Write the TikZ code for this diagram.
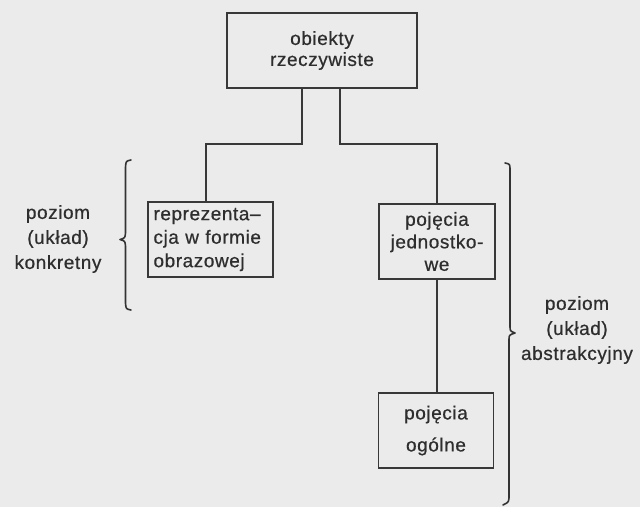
\documentclass[tikz,border=0pt]{standalone}
\usepackage{fontspec}
\setmainfont{Liberation Sans}[LetterSpace=3, FakeBold=0.6]
\begin{document}
\begin{tikzpicture}[x=1pt,y=-1pt,
  ink/.style={draw=black!78, line width=1.8pt},
  box/.style={ink, rectangle, minimum height=75pt, inner sep=2pt,
    text=black!82, font=\fontsize{19}{21}\selectfont, align=center},
  lbl/.style={text=black!82, font=\fontsize{19}{25}\selectfont, align=center, inner sep=0pt},
  brace/.style={draw=black!80, line width=1.6pt, line cap=round, line join=round}]
  % page
  \fill[black!8] (0,0) rectangle (640,507);
  \useasboundingbox (0,0) rectangle (640,507);

  % boxes
  \node[box, minimum width=190pt] (top) at (322,50.5) {obiekty\\rzeczywiste};
  \node[box, minimum width=125pt, text width=114pt, align=left, inner xsep=5.5pt,
        font=\fontsize{19}{23.5}\selectfont] (img) at (210.5,239.5)
        {reprezenta--\\cja w formie\\obrazowej};
  \node[box, minimum width=116pt, font=\fontsize{19}{22.5}\selectfont] (indiv) at (437,241.5) {pojęcia\\jednostko-\\we};
  \node[box, minimum width=115pt, font=\fontsize{19}{32}\selectfont] (gen) at (436,430.5) {pojęcia\\ogólne};

  % connectors
  \coordinate (j1) at (302,144);
  \coordinate (j2) at (206,144);
  \coordinate (k1) at (340,144);
  \coordinate (k2) at (437,144);
  \draw[ink] (top.south -| j1) -- (j1) -- (j2) -- (j2 |- img.north);
  \draw[ink] (top.south -| k1) -- (k1) -- (k2) -- (k2 |- indiv.north);
  \draw[ink, line width=1.4pt] (indiv.south -| k2) -- (gen.north -| k2);

  % left brace
  \draw[brace] (131,160) .. controls (126,161) .. (125.5,167)
    -- (125.5,233) .. controls (125,238) .. (120,239.5)
    .. controls (125,241) .. (125.5,246)
    -- (125.5,303) .. controls (126,309) .. (131,310);
  % right brace
  \draw[brace] (505,163) .. controls (510,164) .. (510,170)
    -- (510,326) .. controls (510,331) .. (515,333)
    .. controls (509,335) .. (509,340)
    -- (509,495) .. controls (509,502) .. (503,505);

  % level labels
  \node[lbl] (conc) at (58,239) {poziom\\(układ)\\konkretny};
  \node[lbl] (abst) at (577,330) {poziom\\(układ)\\abstrakcyjny};
\end{tikzpicture}
\end{document}
